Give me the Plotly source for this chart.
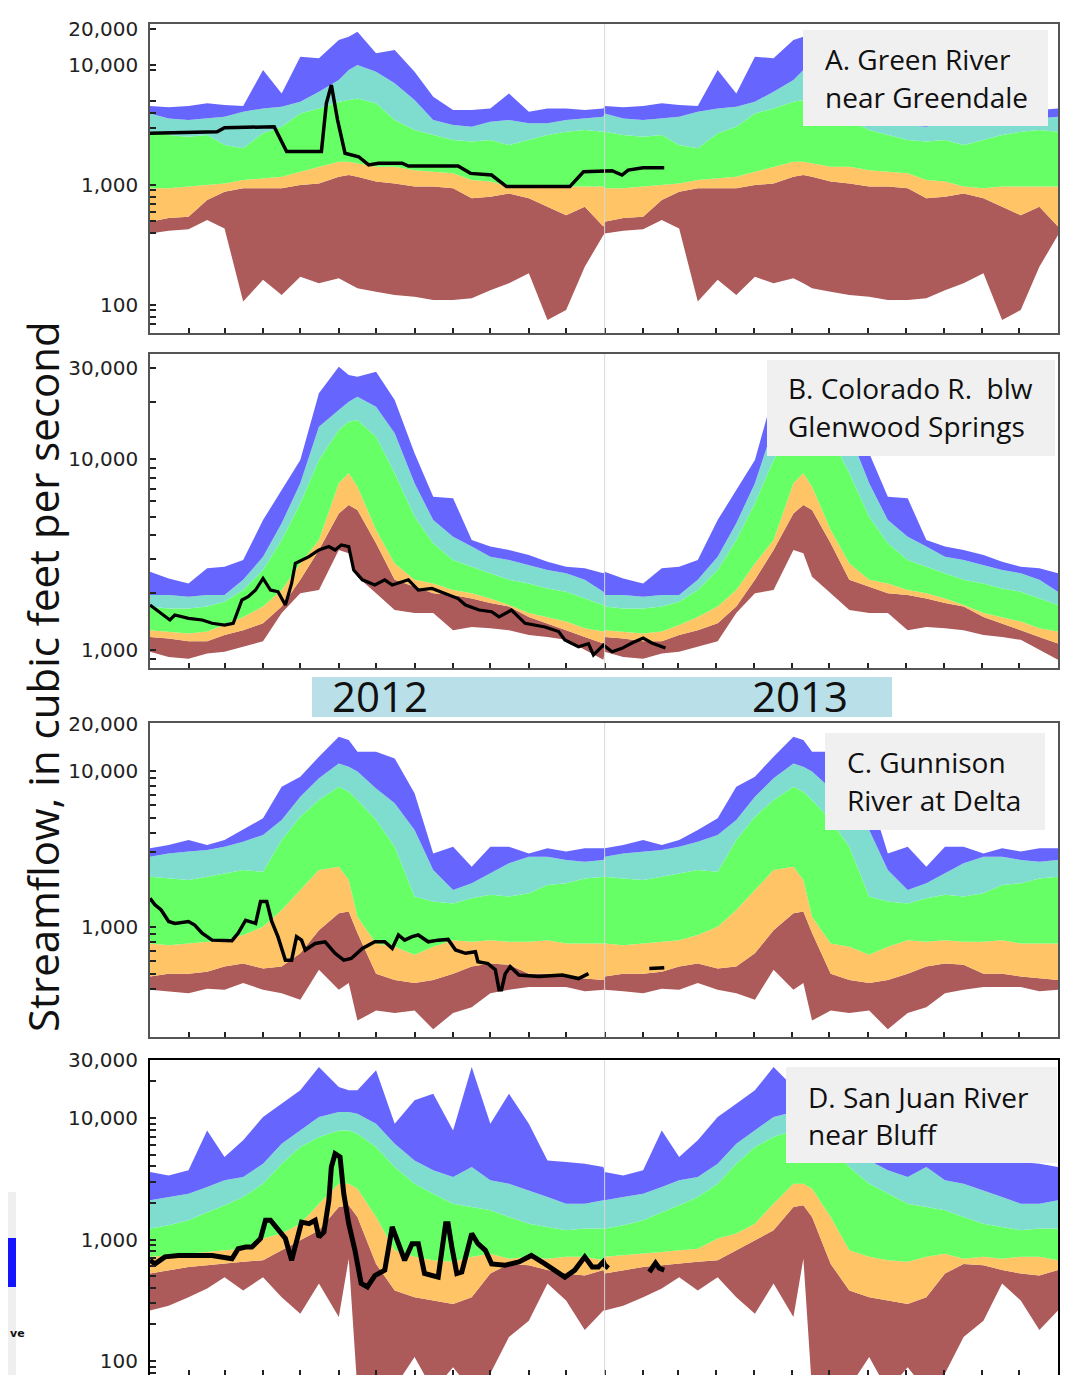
import plotly.graph_objects as go

# page is 1068x1383; the browser body adds an 8px margin, so the figure is 16px smaller
OFF = 8
FW, FH = 1052, 1367

# ---------------- data ----------------
# day-of-year sample points (days since 2012-01-01) for the daily percentile bands
DOY = [0, 15, 31, 46, 60, 75, 91, 106, 121, 136, 152, 160, 167, 182, 197, 213, 228, 244, 259, 274, 289, 305, 320, 335, 350, 365]
DAYS = DOY + [d + 366 for d in DOY]          # same climatology shown for 2012 and 2013
MONTH_TICKS = [0, 31, 60, 91, 121, 152, 182, 213, 244, 274, 305, 335,
               366, 397, 425, 456, 486, 517, 547, 578, 609, 639, 670, 700, 731]
YEAR_BREAK = 366

# A. Green River near Greendale
A_MIN = [395, 416, 428, 510, 435, 107, 162, 121, 172, 152, 167, 152, 138, 129, 121, 117, 110, 110, 114, 133, 152, 184, 75, 91, 208, 383]
A_P10 = [495, 530, 545, 750, 880, 940, 940, 940, 1000, 1030, 1170, 1210, 1170, 1070, 1030, 970, 970, 940, 775, 800, 850, 775, 660, 560, 660, 450]
A_P25 = [940, 940, 970, 1000, 1030, 1100, 1140, 1170, 1290, 1420, 1560, 1560, 1520, 1420, 1420, 1330, 1290, 1250, 1100, 1070, 970, 940, 970, 970, 970, 970]
A_P75 = [2780, 2610, 2530, 2610, 2150, 2020, 2700, 3060, 3950, 4350, 4940, 5110, 5270, 4790, 3480, 2870, 2610, 2370, 2300, 2370, 2150, 2370, 2610, 2780, 2870, 2780]
A_P90 = [3950, 3590, 3480, 3590, 3710, 4080, 4350, 4490, 4940, 5990, 7500, 9085, 10000, 8800, 7030, 5110, 3480, 3160, 3060, 3370, 3480, 3270, 3270, 3480, 3590, 3710]
A_MAX = [4550, 4440, 4550, 4790, 4640, 4550, 9085, 5800, 11730, 11360, 16150, 17220, 18970, 12500, 13340, 8800, 5450, 4220, 4220, 4350, 5800, 4080, 4350, 4350, 4220, 4350]
A_OBS_DAY = [0, 54, 60, 100, 110, 138, 142, 146, 151, 157, 168, 176, 184, 203, 208, 248, 258, 275, 287, 338, 349, 365, 372, 380, 385, 397, 414]
A_OBS = [2700, 2780, 3000, 3060, 1900, 1900, 4790, 6810, 3480, 1840, 1720, 1470, 1520, 1520, 1440, 1440, 1250, 1210, 970, 970, 1290, 1316, 1316, 1210, 1330, 1390, 1390]

# B. Colorado R. blw Glenwood Springs
B_MIN = [980, 920, 900, 960, 980, 1040, 1110, 1560, 1980, 2060, 3340, 3210, 2420, 1980, 1620, 1560, 1560, 1270, 1320, 1300, 1270, 1200, 1170, 1130, 1000, 890]
B_P10 = [1170, 1150, 1110, 1110, 1200, 1270, 1380, 1690, 2330, 3340, 5190, 5740, 5410, 3620, 2330, 2150, 1980, 1940, 1860, 1760, 1690, 1490, 1380, 1270, 1170, 1080]
B_P25 = [1270, 1250, 1220, 1250, 1350, 1490, 1690, 2060, 2840, 3770, 7460, 8410, 7160, 4250, 2840, 2330, 2230, 2060, 1980, 1860, 1720, 1560, 1490, 1410, 1300, 1250]
B_P75 = [1690, 1650, 1650, 1690, 1790, 2060, 2620, 3770, 5860, 9880, 14190, 15690, 16000, 13090, 8410, 4990, 3620, 2960, 2730, 2520, 2330, 2230, 2100, 2020, 1860, 1720]
B_P90 = [1940, 1940, 1900, 1940, 1940, 2330, 3080, 4610, 7460, 14770, 18050, 19960, 21200, 18790, 13630, 7460, 4790, 3920, 3480, 3080, 2960, 2790, 2620, 2520, 2330, 2020]
B_MAX = [2570, 2370, 2230, 2680, 2730, 2960, 4790, 6880, 9880, 22070, 30430, 27530, 26990, 28660, 20370, 10710, 6350, 6230, 3770, 3480, 3340, 3140, 2900, 2730, 2680, 2520]
B_OBS_DAY = [0, 12, 16, 20, 31, 42, 50, 60, 67, 74, 79, 85, 91, 97, 103, 109, 114, 117, 128, 136,
             144, 149, 154, 160, 164, 171, 181, 189, 195, 208, 216, 227, 238, 248, 254, 265, 275, 281, 291, 302,
             318, 329, 334, 345, 353, 357, 365, 372, 380, 388, 397, 404, 415]
B_OBS = [1720, 1490, 1436, 1525, 1465, 1436, 1380, 1350, 1380, 1828, 1900, 2060, 2370, 2060, 2020, 1720, 2230, 2840, 3080, 3340,
         3480, 3340, 3546, 3480, 2620, 2330, 2189, 2330, 2189, 2330, 2060, 2100, 1980, 1860, 1720, 1620, 1587, 1490, 1620, 1380,
         1320, 1250, 1130, 1040, 1080, 942, 1060, 980, 1020, 1088, 1155, 1088, 1024]

# C. Gunnison River at Delta
C_MIN = [395, 385, 375, 400, 395, 435, 395, 375, 340, 530, 395, 435, 250, 290, 280, 290, 220, 280, 305, 375, 395, 410, 410, 410, 385, 395]
C_P10 = [480, 500, 500, 515, 555, 580, 540, 555, 675, 950, 1220, 1250, 910, 500, 455, 435, 455, 500, 555, 580, 570, 500, 500, 480, 465, 455]
C_P25 = [780, 760, 780, 800, 820, 885, 1000, 1280, 1720, 2310, 2420, 1990, 1160, 780, 745, 660, 745, 820, 800, 820, 800, 800, 820, 780, 780, 780]
C_P75 = [2090, 2040, 1990, 2090, 2200, 2310, 2250, 3590, 5070, 6490, 7900, 7330, 6490, 4830, 3260, 1560, 1450, 1410, 1520, 1600, 1560, 1640, 1850, 1900, 2040, 2090]
C_P90 = [2810, 2950, 3030, 3100, 3260, 3510, 3870, 4830, 6810, 8930, 11140, 10610, 9900, 7700, 6180, 4170, 2310, 1720, 1900, 2200, 2550, 2810, 2810, 2680, 2610, 2680]
C_MAX = [3180, 3340, 3590, 3340, 3590, 4170, 4950, 7900, 9150, 12290, 16520, 15730, 13240, 13240, 11990, 7160, 2950, 3260, 2420, 3260, 3260, 2950, 3180, 3030, 3180, 3180]
C_OBS_DAY = [0, 4, 9, 15, 20, 31, 36, 42, 50, 58, 66, 71, 77, 85, 89, 94, 98, 103, 109, 114,
             118, 122, 125, 133, 141, 149, 156, 162, 171, 181, 189, 195, 200, 205, 211, 216, 224, 232, 240, 246,
             254, 262, 264, 272, 278, 281, 283, 286, 290, 297, 313, 332, 345, 353, 380, 402, 414]
C_OBS = [1520, 1380, 1280, 1080, 1050, 1080, 1025, 910, 820, 820, 813, 910, 1100, 1050, 1450, 1450, 1080, 863, 610, 610,
         863, 820, 709, 780, 800, 675, 610, 626, 726, 800, 800, 726, 885, 820, 863, 885, 800, 820, 829, 709,
         675, 691, 597, 580, 530, 395, 395, 500, 555, 490, 480, 490, 465, 500, None, 540, 545]

# D. San Juan River near Bluff
D_MIN = [260, 285, 335, 395, 490, 380, 490, 335, 245, 435, 230, 695, 57, 69, 61, 108, 57, 89, 57, 79, 158, 215, 435, 315, 180, 260]
D_P10 = [525, 560, 595, 615, 630, 655, 675, 815, 985, 1190, 1850, 1910, 1530, 630, 380, 335, 315, 295, 335, 525, 630, 615, 560, 525, 505, 560]
D_P25 = [720, 740, 765, 790, 815, 840, 1020, 1120, 1350, 1970, 2880, 2880, 2620, 1530, 815, 720, 675, 655, 720, 765, 695, 720, 695, 720, 720, 675]
D_P75 = [1230, 1310, 1440, 1680, 1910, 2240, 2880, 4210, 5770, 6980, 7910, 7910, 7430, 5770, 3950, 2880, 2380, 1970, 1850, 1740, 1530, 1350, 1270, 1190, 1230, 1230]
D_P90 = [2100, 2240, 2380, 2700, 3070, 3270, 4210, 6150, 7910, 10190, 11200, 11200, 10860, 8980, 6150, 4480, 3710, 3270, 3950, 3070, 2880, 2540, 2240, 1970, 1970, 2100]
D_MAX = [3590, 3370, 3710, 7910, 4780, 6550, 10190, 13120, 16890, 26290, 17990, 16890, 16890, 24690, 8980, 13980, 15860, 7910, 26290, 8980, 15860, 8980, 4480, 4340, 4210, 3950]
D_OBS_DAY = [0, 4, 12, 23, 36, 50, 66, 71, 77, 82, 89, 93, 97, 102, 109, 114, 118, 122, 128, 133,
             136, 140, 144, 146, 149, 153, 156, 160, 165, 170, 175, 181, 189, 195, 200, 205, 211, 216, 221, 232,
             238, 240, 243, 247, 251, 259, 264, 270, 275, 286, 297, 307, 318, 326, 334, 342, 350, 356, 361, 365,
             366, 369, 385, 402, 407, 410, 414]
D_OBS = [675, 630, 720, 740, 740, 740, 695, 840, 868, 868, 1020, 1440, 1440, 1230, 1020, 675, 1020, 1390, 1350, 1440,
         1050, 1150, 2100, 3950, 5080, 4780, 2380, 1350, 815, 435, 407, 505, 560, 1270, 924, 675, 924, 924, 525, 490,
         1350, 1350, 868, 525, 540, 1120, 924, 815, 630, 615, 655, 740, 630, 560, 490, 560, 720, 595, 595, 655,
         617, 582, None, 540, 640, 580, 561]

# y tick labels shown on each panel
A_LABELS = [20000, 10000, 1000, 100]
B_LABELS = [30000, 10000, 1000]
C_LABELS = [20000, 10000, 1000]
D_LABELS = [30000, 10000, 1000, 100]

# ---------------- styling ----------------
BROWN = "#AD5A5A"
ORANGE = "#FFC466"
GREEN = "#66FF66"
CYAN = "#7FDDD0"
BLUE = "#6666FF"


def px_x(p):
    return (p - OFF) / FW


def px_y(p):
    return 1 - (p - OFF) / FH


panels = [
    dict(top=24, bot=333, rng=[1.7667, 4.3417], bands=(A_MIN, A_P10, A_P25, A_P75, A_P90, A_MAX),
         obs=(A_OBS_DAY, A_OBS), lw=3.5, labels=A_LABELS,
         tv=[20000, 10000, 9000, 5000, 4000, 3000, 1000, 900, 800, 700, 600, 500, 400, 100, 90, 80, 70],
         frame="#555555", fw=1.5),
    dict(top=354, bot=668, rng=[2.9058, 4.5497], bands=(B_MIN, B_P10, B_P25, B_P75, B_P90, B_MAX),
         obs=(B_OBS_DAY, B_OBS), lw=3.2, labels=B_LABELS,
         tv=[30000, 20000, 10000, 9000, 8000, 7000, 6000, 5000, 4000, 3000, 2000, 1000, 900],
         frame="#555555", fw=1.5),
    dict(top=723, bot=1037, rng=[2.2929, 4.3058], bands=(C_MIN, C_P10, C_P25, C_P75, C_P90, C_MAX),
         obs=(C_OBS_DAY, C_OBS), lw=3.5, labels=C_LABELS,
         tv=[20000, 10000, 9000, 8000, 7000, 6000, 5000, 4000, 3000, 1000, 900, 800, 700, 600, 500, 400],
         frame="#555555", fw=1.5),
    dict(top=1060, bot=1375, rng=[1.885, 4.4774], bands=(D_MIN, D_P10, D_P25, D_P75, D_P90, D_MAX),
         obs=(D_OBS_DAY, D_OBS), lw=5, labels=D_LABELS,
         tv=[30000, 20000, 10000, 9000, 8000, 7000, 6000, 5000, 4000, 3000, 2000, 1000, 900, 800, 700, 600,
             500, 400, 300, 200, 100, 90, 80],
         frame="#000000", fw=2),
]

fig = go.Figure()
layout = dict(width=FW, height=FH, margin=dict(l=0, r=0, t=0, b=0, autoexpand=False), paper_bgcolor="white",
              plot_bgcolor="white", showlegend=False, font=dict(family="DejaVu Sans", color="#222"))
shapes, annotations = [], []

for i, p in enumerate(panels):
    n = "" if i == 0 else str(i + 1)
    xa, ya = "x" + n, "y" + n
    cols = [None, BROWN, ORANGE, GREEN, CYAN, BLUE]
    for vals, col in zip(p["bands"], cols):
        fig.add_trace(go.Scatter(x=DAYS, y=vals + vals, xaxis=xa, yaxis=ya, mode="lines",
                                 line=dict(width=0, color=col or BROWN),
                                 fill="tonexty" if col else None, fillcolor=col,
                                 hoverinfo="skip", showlegend=False))
    ox, oy = p["obs"]
    fig.add_trace(go.Scatter(x=ox, y=oy, xaxis=xa, yaxis=ya, mode="lines",
                             line=dict(color="black", width=p["lw"]), connectgaps=False,
                             hoverinfo="skip", showlegend=False))
    dom_y = [px_y(p["bot"]), px_y(p["top"])]
    layout["xaxis" + n] = dict(domain=[px_x(150), px_x(1058)], anchor=ya, range=[0, 731], automargin=False,
                               showgrid=False, zeroline=False, tickvals=MONTH_TICKS, ticks="inside",
                               ticklen=5, tickwidth=1.5, tickcolor="#222", showticklabels=False,
                               showline=True, mirror=True, linecolor=p["frame"], linewidth=p["fw"])
    layout["yaxis" + n] = dict(domain=dom_y, anchor=xa, type="log", range=p["rng"], showgrid=False,
                               zeroline=False, tickvals=p["tv"], automargin=False,
                               ticktext=[f"{v:,}" if v in p["labels"] else "" for v in p["tv"]],
                               ticks="inside", ticklen=6, tickwidth=1.5, tickcolor="#222",
                               tickfont=dict(family="DejaVu Sans", size=20, color="#222"),
                               ticklabelstandoff=6,
                               showline=True, mirror=True, linecolor=p["frame"], linewidth=p["fw"])
    shapes.append(dict(type="line", xref=xa, yref=ya + " domain", x0=YEAR_BREAK, x1=YEAR_BREAK, y0=0, y1=1,
                       line=dict(color="rgba(215,215,215,0.95)", width=1), layer="above"))

# panel title boxes
boxes = [
    ((803, 30, 1048, 126), 823, [("A. Green River", 59), ("near Greendale", 97)]),
    ((767, 360, 1055, 456), 786, [("B. Colorado R.  blw", 388), ("Glenwood Springs", 426)]),
    ((825, 733, 1045, 830), 845, [("C. Gunnison", 762), ("River at Delta", 800)]),
    ((786, 1067, 1057, 1163), 806, [("D. San Juan River", 1097), ("near Bluff", 1134)]),
]
for (x0, y0, x1, y1), tx, lines in boxes:
    shapes.append(dict(type="rect", xref="paper", yref="paper", x0=px_x(x0), x1=px_x(x1),
                       y0=px_y(y1), y1=px_y(y0), fillcolor="#F0F0F0", line=dict(width=0), layer="above"))
    for txt, ty in lines:
        annotations.append(dict(text=txt, xref="paper", yref="paper", x=px_x(tx), y=px_y(ty),
                                xanchor="left", yanchor="middle", showarrow=False,
                                font=dict(family="Open Sans", size=28, color="#111")))

# year banner
shapes.append(dict(type="rect", xref="paper", yref="paper", x0=px_x(312), x1=px_x(892),
                   y0=px_y(717), y1=px_y(677), fillcolor="#B9DFE8", line=dict(width=0)))
for txt, cx in [("2012", 380), ("2013", 800)]:
    annotations.append(dict(text=txt, xref="paper", yref="paper", x=px_x(cx), y=px_y(695),
                            xanchor="center", yanchor="middle", showarrow=False,
                            font=dict(family="Open Sans", size=42, color="#111")))

# y-axis title
annotations.append(dict(text="Streamflow, in cubic feet per second", xref="paper", yref="paper",
                        x=px_x(42), y=px_y(677), xanchor="center", yanchor="middle", textangle=-90,
                        showarrow=False, font=dict(family="Open Sans", size=42, color="#111")))

# cropped legend fragment at lower left
shapes.append(dict(type="rect", xref="paper", yref="paper", x0=0, x1=px_x(16), y0=0, y1=px_y(1192),
                   fillcolor="#EFEFEF", line=dict(width=0)))
shapes.append(dict(type="rect", xref="paper", yref="paper", x0=0, x1=px_x(16), y0=px_y(1287), y1=px_y(1238),
                   fillcolor="#1414FF", line=dict(width=0)))
annotations.append(dict(text="<b>ve</b>", xref="paper", yref="paper", x=0, y=px_y(1333),
                        xanchor="left", yanchor="middle", showarrow=False,
                        font=dict(family="DejaVu Sans", size=11, color="#111")))

layout["shapes"] = shapes
layout["annotations"] = annotations
fig.update_layout(**layout)
fig.write_html("out.html")
